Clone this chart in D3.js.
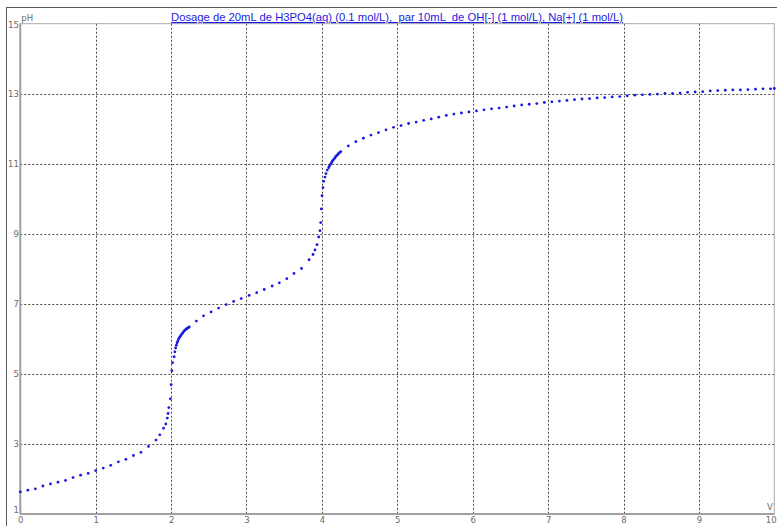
<!DOCTYPE html>
<html>
<head>
<meta charset="utf-8">
<script src="https://cdn.jsdelivr.net/npm/d3@7"></script>
<style>
  html, body { margin: 0; padding: 0; background: #fff; }
  svg { display: block; }
  .tick-lbl { font-family: "DejaVu Sans", Verdana, sans-serif; font-size: 8.5px; fill: #6a6a6a; }
</style>
</head>
<body>
<svg id="chart" width="777" height="526"></svg>
<script>
// Titration of H3PO4 by NaOH: added volume (mL) and measured pH
const volume = [
  0, 0.1, 0.2, 0.3, 0.4, 0.5, 0.6, 0.7, 0.8, 0.9, 1.0, 1.1, 1.2, 1.3, 1.4, 1.5, 1.6, 1.7, 1.8,
  1.85, 1.90, 1.93, 1.95, 1.96, 1.97, 1.99, 2.00, 2.01, 2.02, 2.04, 2.05, 2.06, 2.07, 2.08, 2.09, 2.10,
  2.114, 2.127, 2.14, 2.154, 2.167, 2.18, 2.194, 2.207, 2.22, 2.233, 2.24,
  2.335, 2.43, 2.53, 2.63, 2.73, 2.83, 2.93, 3.035, 3.135, 3.235, 3.34, 3.435, 3.535, 3.63, 3.73, 3.83,
  3.882, 3.908, 3.935, 3.958, 3.975, 3.984, 3.992, 4.001, 4.015, 4.024, 4.041, 4.054, 4.072, 4.09,
  4.10, 4.115, 4.13, 4.14, 4.155, 4.17, 4.18, 4.195, 4.21, 4.22, 4.235, 4.25,
  4.35, 4.45, 4.55, 4.65, 4.75, 4.85, 4.95, 5.05, 5.15, 5.25, 5.35, 5.45, 5.55, 5.65, 5.75, 5.85, 5.95,
  6.05, 6.15, 6.25, 6.35, 6.45, 6.55, 6.65, 6.75, 6.85, 6.95, 7.05, 7.15, 7.25, 7.35, 7.45, 7.55, 7.65,
  7.75, 7.85, 7.95, 8.05, 8.15, 8.25, 8.35, 8.45, 8.55, 8.65, 8.75, 8.85, 8.95, 9.05, 9.15, 9.25, 9.35,
  9.45, 9.55, 9.65, 9.75, 9.85, 9.95, 10.0
];
const pH = [
  1.63, 1.68, 1.72, 1.80, 1.86, 1.91, 1.96, 2.04, 2.11, 2.16, 2.24, 2.31, 2.39, 2.49, 2.56, 2.67, 2.76, 2.93, 3.11,
  3.26, 3.45, 3.57, 3.74, 3.87, 4.04, 4.29, 4.69, 5.09, 5.32, 5.49, 5.63, 5.74, 5.82, 5.89, 5.94, 6.00,
  6.05, 6.09, 6.13, 6.17, 6.21, 6.24, 6.27, 6.29, 6.31, 6.33, 6.34,
  6.51, 6.66, 6.77, 6.88, 6.98, 7.07, 7.15, 7.24, 7.32, 7.41, 7.51, 7.60, 7.72, 7.87, 8.01, 8.26,
  8.41, 8.54, 8.69, 8.91, 9.09, 9.32, 9.71, 10.09, 10.32, 10.50, 10.62, 10.72, 10.82, 10.89,
  10.94, 10.99, 11.04, 11.08, 11.12, 11.16, 11.20, 11.23, 11.26, 11.29, 11.32, 11.35,
  11.51, 11.63, 11.73, 11.82, 11.89, 11.97, 12.04, 12.09, 12.15, 12.19, 12.24, 12.28, 12.33, 12.38, 12.42, 12.45, 12.48,
  12.51, 12.54, 12.57, 12.59, 12.62, 12.65, 12.68, 12.70, 12.72, 12.75, 12.77, 12.79, 12.81, 12.83, 12.85, 12.86, 12.88,
  12.89, 12.91, 12.92, 12.94, 12.96, 12.97, 12.98, 12.99, 13.01, 13.01, 13.02, 13.04, 13.05, 13.06, 13.08, 13.09, 13.10,
  13.11, 13.11, 13.12, 13.13, 13.14, 13.14, 13.15
];
const xTicks = [0, 1, 2, 3, 4, 5, 6, 7, 8, 9, 10];
const yTicks = [1, 3, 5, 7, 9, 11, 13, 15];
const titleText = "Dosage de 20mL de H3PO4(aq) (0.1 mol/L),  par 10mL  de OH[-] (1 mol/L), Na[+] (1 mol/L)";

const svg = d3.select("#chart");
const plot = { left: 20.3, right: 774.3, top: 23.7, bottom: 514 };

const x = d3.scaleLinear().domain([0, 10]).range([plot.left, plot.right]);
const y = d3.scaleLinear().domain([1, 15]).range([plot.bottom, plot.top]);

// outer window frame
svg.append("rect")
  .attr("x", 6.5).attr("y", 7.5).attr("width", 800).attr("height", 600)
  .attr("fill", "none").attr("stroke", "#5a5a5a").attr("stroke-width", 1);

// dotted grid lines
const grid = svg.append("g").attr("stroke", "#4a4a4a").attr("stroke-width", 1)
  .attr("stroke-dasharray", "2,2");
grid.selectAll("line.gx").data(xTicks.filter(d => d > 0 && d < 10)).join("line")
  .attr("x1", d => Math.round(x(d)) + 0.5).attr("x2", d => Math.round(x(d)) + 0.5)
  .attr("y1", plot.top).attr("y2", plot.bottom);
grid.selectAll("line.gy").data(yTicks.filter(d => d > 1 && d < 15)).join("line")
  .attr("x1", plot.left).attr("x2", plot.right)
  .attr("y1", d => Math.round(y(d)) + 0.5).attr("y2", d => Math.round(y(d)) + 0.5);

// plot border and axes lines
svg.append("rect")
  .attr("x", plot.left).attr("y", plot.top)
  .attr("width", plot.right - plot.left).attr("height", plot.bottom - plot.top)
  .attr("fill", "none").attr("stroke", "#a8a8a8").attr("stroke-width", 1);
svg.append("line")
  .attr("x1", plot.left).attr("x2", plot.left).attr("y1", plot.top).attr("y2", plot.bottom)
  .attr("stroke", "#a0a0a0").attr("stroke-width", 2);
svg.append("line")
  .attr("x1", plot.left).attr("x2", plot.right).attr("y1", plot.bottom).attr("y2", plot.bottom)
  .attr("stroke", "#a0a0a0").attr("stroke-width", 2);

// axes labels via d3 axes (no domain / tick marks)
const xAxis = svg.append("g").attr("transform", `translate(0,${plot.bottom})`)
  .call(d3.axisBottom(x).tickValues(xTicks).tickSize(0).tickPadding(3).tickFormat(d3.format("d")));
xAxis.select(".domain").remove();
xAxis.selectAll("text").attr("class", "tick-lbl").attr("fill", null).attr("font-family", null).attr("font-size", null);
// last label sits against the right edge of the window
xAxis.selectAll("text").filter(d => d === 10).attr("text-anchor", "end").attr("dx", "1.8");

const yAxis = svg.append("g").attr("transform", `translate(${plot.left - 0.5},0)`)
  .call(d3.axisLeft(y).tickValues(yTicks).tickSize(0).tickPadding(1).tickFormat(d3.format("d")));
yAxis.select(".domain").remove();
yAxis.selectAll("text").attr("class", "tick-lbl").attr("fill", null).attr("font-family", null).attr("font-size", null)
  .attr("dy", d => d === 1 ? "-0.2em" : d === 15 ? "0.5em" : "0.32em");

// axis names
svg.append("text").attr("class", "tick-lbl").attr("x", plot.left + 1).attr("y", 21).text("pH");
svg.append("text").attr("class", "tick-lbl").attr("x", 767).attr("y", 510).text("V");

// title
svg.append("text")
  .attr("x", 171).attr("y", 21)
  .attr("textLength", 452).attr("lengthAdjust", "spacingAndGlyphs")
  .style("white-space", "pre")
  .attr("font-family", "Liberation Sans, Arial, sans-serif")
  .attr("font-size", 11)
  .attr("fill", "#1c1ce0")
  .attr("text-decoration", "underline")
  .text(titleText);

// measured points
const pts = volume.map((v, i) => ({ v, p: pH[i] }));
svg.append("g").selectAll("circle").data(pts).join("circle")
  .attr("cx", d => x(d.v)).attr("cy", d => y(d.p))
  .attr("r", 1.4).attr("fill", "#1818e0");
</script>
</body>
</html>
